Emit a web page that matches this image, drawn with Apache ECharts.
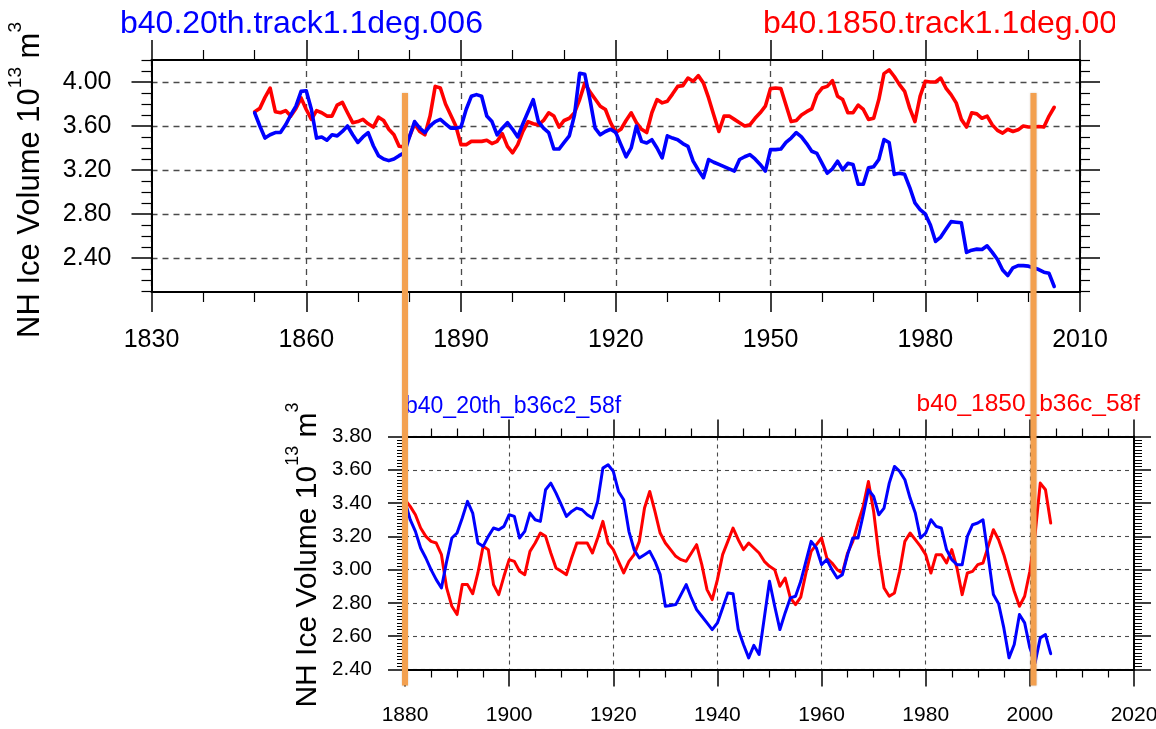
<!DOCTYPE html>
<html>
<head>
<meta charset="utf-8">
<script src="https://cdn.jsdelivr.net/npm/echarts@6/dist/echarts.min.js"></script>
<style>
  html, body { margin: 0; padding: 0; background: #ffffff; }
  #chart { width: 1156px; height: 729px; }
</style>
</head>
<body>
<div id="chart"></div>
<script>
// ---- NH ice volume (10^13 m^3), annual values ----
const topStartYear = 1850;      // b40 1-degree runs, 1850-2005
const bottomStartYear = 1880;   // b36 runs, 1880-2004

const track20thVolume = [
  3.72, 3.60, 3.49, 3.52, 3.54, 3.54, 3.61, 3.70, 3.78, 3.915,
  3.92, 3.75, 3.49, 3.50, 3.47, 3.52, 3.51, 3.55, 3.60, 3.52,
  3.45, 3.50, 3.54, 3.42, 3.33, 3.30, 3.285, 3.30, 3.33, 3.355,
  3.50, 3.64, 3.58, 3.54, 3.60, 3.64, 3.66, 3.62, 3.58, 3.58,
  3.59, 3.75, 3.87, 3.885, 3.87, 3.69, 3.64, 3.52, 3.58, 3.63,
  3.57, 3.50, 3.62, 3.73, 3.84, 3.64, 3.58, 3.54, 3.39, 3.39,
  3.45, 3.51, 3.70, 4.08, 4.07, 3.84, 3.58, 3.52, 3.55, 3.57,
  3.54, 3.43, 3.32, 3.40, 3.60, 3.46, 3.445, 3.475, 3.40, 3.31,
  3.51, 3.49, 3.475, 3.44, 3.415, 3.28, 3.20, 3.13, 3.295, 3.27,
  3.25, 3.23, 3.21, 3.19, 3.295, 3.32, 3.34, 3.30, 3.25, 3.19,
  3.385, 3.385, 3.39, 3.45, 3.49, 3.54, 3.50, 3.44, 3.37, 3.35,
  3.26, 3.17, 3.21, 3.28, 3.20, 3.26, 3.25, 3.07, 3.07, 3.22,
  3.23, 3.295, 3.476, 3.45, 3.16, 3.17, 3.16, 3.04, 2.90, 2.84,
  2.80, 2.70, 2.55, 2.59, 2.66, 2.73, 2.725, 2.72, 2.45, 2.47,
  2.48, 2.476, 2.51, 2.45, 2.385, 2.29, 2.24, 2.31, 2.33, 2.33,
  2.325, 2.31, 2.294, 2.27, 2.26, 2.14
];

const track1850Volume = [
  3.73, 3.76, 3.86, 3.945, 3.73, 3.72, 3.74, 3.69, 3.76, 3.855,
  3.75, 3.66, 3.74, 3.72, 3.69, 3.69, 3.79, 3.815, 3.72, 3.63,
  3.64, 3.66, 3.62, 3.59, 3.68, 3.65, 3.57, 3.52, 3.415, 3.41,
  3.50, 3.62, 3.55, 3.52, 3.69, 3.96, 3.945, 3.80, 3.70, 3.60,
  3.43, 3.43, 3.46, 3.46, 3.46, 3.47, 3.44, 3.46, 3.53, 3.415,
  3.355, 3.43, 3.55, 3.64, 3.62, 3.61, 3.65, 3.72, 3.69, 3.59,
  3.65, 3.67, 3.72, 3.84, 3.99, 3.91, 3.845, 3.78, 3.75, 3.63,
  3.54, 3.57, 3.65, 3.72, 3.63, 3.57, 3.54, 3.72, 3.84, 3.81,
  3.825, 3.89, 3.96, 3.967, 4.036, 4.006, 4.058, 3.99, 3.855, 3.70,
  3.55, 3.69, 3.69, 3.66, 3.63, 3.60, 3.61, 3.67, 3.72, 3.78,
  3.94, 3.945, 3.94, 3.79, 3.64, 3.65, 3.70, 3.73, 3.755, 3.885,
  3.945, 3.96, 4.012, 3.87, 3.84, 3.72, 3.72, 3.79, 3.75, 3.66,
  3.67, 3.84, 4.076, 4.11, 4.05, 3.976, 3.915, 3.76, 3.64, 3.87,
  4.006, 4.00, 4.00, 4.036, 3.945, 3.885, 3.81, 3.66, 3.59, 3.72,
  3.71, 3.67, 3.69, 3.61, 3.56, 3.535, 3.57, 3.55, 3.565, 3.60,
  3.59, 3.59, 3.595, 3.59, 3.69, 3.77
];

const b36c2Volume = [
  3.41, 3.30, 3.23, 3.13, 3.07, 3.00, 2.94, 2.89, 3.05, 3.19,
  3.22, 3.31, 3.41, 3.34, 3.16, 3.14, 3.20, 3.25, 3.24, 3.26,
  3.33, 3.32, 3.19, 3.23, 3.34, 3.30, 3.29, 3.48, 3.52, 3.46,
  3.39, 3.32, 3.35, 3.37, 3.36, 3.33, 3.31, 3.41, 3.61, 3.63,
  3.59, 3.47, 3.42, 3.23, 3.12, 3.07, 3.09, 3.11, 3.05, 2.97,
  2.78, 2.785, 2.79, 2.85, 2.91, 2.83, 2.76, 2.72, 2.68, 2.64,
  2.68, 2.77, 2.86, 2.855, 2.64, 2.55, 2.47, 2.545, 2.49, 2.71,
  2.93, 2.78, 2.64, 2.74, 2.83, 2.84, 2.93, 3.05, 3.17, 3.13,
  3.03, 3.06, 3.00, 2.95, 2.97, 3.09, 3.19, 3.19, 3.33, 3.48,
  3.44, 3.33, 3.37, 3.52, 3.62, 3.59, 3.54, 3.43, 3.34, 3.19,
  3.22, 3.30, 3.26, 3.25, 3.12, 3.06, 3.03, 3.03, 3.20, 3.27,
  3.28, 3.30, 3.08, 2.85, 2.795, 2.65, 2.47, 2.55, 2.73, 2.68,
  2.53, 2.44, 2.59, 2.61, 2.495
];

const b36cVolume = [
  3.42, 3.38, 3.33, 3.25, 3.20, 3.17, 3.16, 3.09, 2.89, 2.78,
  2.73, 2.91, 2.91, 2.855, 2.98, 3.14, 3.12, 2.91, 2.85, 2.96,
  3.06, 3.05, 2.99, 2.97, 3.11, 3.16, 3.22, 3.20, 3.10, 3.01,
  2.99, 2.97, 3.07, 3.16, 3.16, 3.16, 3.10, 3.19, 3.29, 3.16,
  3.12, 3.05, 2.98, 3.05, 3.09, 3.17, 3.37, 3.47, 3.35, 3.22,
  3.16, 3.12, 3.08, 3.06, 3.05, 3.10, 3.15, 3.03, 2.88, 2.82,
  2.94, 3.09, 3.17, 3.25, 3.18, 3.12, 3.16, 3.13, 3.10, 3.05,
  3.02, 3.00, 2.90, 2.95, 2.83, 2.79, 2.835, 2.98, 3.11, 3.15,
  3.19, 3.07, 3.04, 3.00, 2.98, 3.10, 3.17, 3.28, 3.38, 3.53,
  3.35, 3.09, 2.89, 2.84, 2.86, 2.99, 3.17, 3.22, 3.18, 3.14,
  3.09, 2.98, 3.09, 3.09, 3.04, 3.12, 3.01, 2.85, 2.98, 2.99,
  3.03, 3.04, 3.14, 3.24, 3.18, 3.09, 2.98, 2.87, 2.78, 2.84,
  2.99, 3.21, 3.52, 3.48, 3.28
];

// ---- tick values ----
const topYTicks = [2.4, 2.8, 3.2, 3.6, 4.0];
const topYMinorTicks = [2.1, 2.2, 2.3, 2.5, 2.6, 2.7, 2.9, 3.0, 3.1, 3.3, 3.4, 3.5, 3.7, 3.8, 3.9, 4.1, 4.2];

// ---- run names ----
const topTitles = ['b40.20th.track1.1deg.006', 'b40.1850.track1.1deg.006'];
const bottomTitles = ['b40_20th_b36c2_58f', 'b40_1850_b36c_58f'];
const yAxisTitle = '{a|NH Ice Volume 10}{s|13}{a| m}{s|3}';

// years marked by the vertical bars across both panels
const markerYears = [1880, 2000.7];

const FONT = '"Liberation Sans", Arial, Helvetica, sans-serif';
const BLUE = '#0000ff';
const RED = '#ff0000';
const ORANGE = '#f3a04f';

function toPairs(start, values) {
  return values.map((v, i) => [start + i, v]);
}

const chart = echarts.init(document.getElementById('chart'), null, { renderer: 'canvas' });

const frameLine = { show: true, onZero: false, lineStyle: { color: '#000', width: 2 } };
const yearLabel = v => String(v);

function xFrame(gridIndex, position, min, max, interval, minorSplit, major, minor, label) {
  return {
    type: 'value', gridIndex, position, min, max, interval,
    axisLine: frameLine,
    axisTick: { show: true, inside: false, length: major, lineStyle: { color: '#000', width: 1.5 } },
    minorTick: { show: true, splitNumber: minorSplit, length: minor, lineStyle: { color: '#000', width: 1.2 } },
    axisLabel: label ? label : { show: false },
    splitLine: { show: false },
    minorSplitLine: { show: false }
  };
}

const topGrid = { left: 151.5, top: 60, width: 928.5, height: 232 };
const bottomGrid = { left: 405, top: 436.5, width: 729, height: 233 };

const topDash = { show: true, lineStyle: { color: '#4a4a4a', width: 1.3, type: [6, 5] } };
const bottomDash = { show: true, lineStyle: { color: '#4a4a4a', width: 1.1, type: [4, 4] } };

const xAxes = [
  // top panel
  Object.assign(xFrame(0, 'bottom', 1830, 2010, 30, 3, 20, 10,
    { show: true, margin: 36, fontSize: 25, color: '#000', fontFamily: FONT, formatter: yearLabel }),
    { splitLine: topDash }),
  xFrame(0, 'top', 1830, 2010, 30, 3, 20, 10, null),
  // bottom panel
  Object.assign(xFrame(1, 'bottom', 1880, 2020, 20, 4, 17, 8,
    { show: true, margin: 35, fontSize: 21, color: '#000', fontFamily: FONT, formatter: yearLabel }),
    { splitLine: bottomDash }),
  xFrame(1, 'top', 1880, 2020, 20, 4, 17, 8, null)
];

const topYMin = 2.09, topYMax = 4.2;
function topY(position, showLabel, customTicks, len, split) {
  return {
    type: 'value', gridIndex: 0, position, min: topYMin, max: topYMax,
    axisLine: customTicks === topYTicks ? frameLine : { show: false },
    axisTick: { show: true, inside: false, length: len, customValues: customTicks,
                lineStyle: { color: '#000', width: customTicks === topYTicks ? 1.5 : 1.2 } },
    axisLabel: showLabel
      ? { show: true, customValues: topYTicks, margin: 40, fontSize: 25, color: '#000', fontFamily: FONT,
          formatter: v => v.toFixed(2) }
      : { show: false },
    splitLine: split ? topDash : { show: false }
  };
}

function bottomY(position, showLabel) {
  return {
    type: 'value', gridIndex: 1, position, min: 2.4, max: 3.8, interval: 0.2,
    axisLine: frameLine,
    axisTick: { show: true, inside: false, length: 17, lineStyle: { color: '#000', width: 1.5 } },
    minorTick: { show: true, splitNumber: 10, length: 8, lineStyle: { color: '#000', width: 1 } },
    axisLabel: showLabel
      ? { show: true, margin: 33, fontSize: 20.5, color: '#000', fontFamily: FONT, formatter: v => v.toFixed(2) }
      : { show: false },
    splitLine: showLabel ? bottomDash : { show: false },
    minorSplitLine: { show: false }
  };
}

const yAxes = [
  topY('left', true, topYTicks, 20, true),
  topY('right', false, topYTicks, 20, false),
  topY('left', false, topYMinorTicks, 10, false),
  topY('right', false, topYMinorTicks, 10, false),
  bottomY('left', true),
  bottomY('right', false)
];

function lineSeries(name, xi, yi, start, values, color, width) {
  return {
    name, type: 'line', xAxisIndex: xi, yAxisIndex: yi,
    data: toPairs(start, values),
    showSymbol: false, symbol: 'none', smooth: false, silent: true,
    lineStyle: { color, width, cap: 'round', join: 'round' },
    z: 3
  };
}

chart.setOption({
  animation: false,
  backgroundColor: '#ffffff',
  grid: [
    Object.assign({ containLabel: false, outerBoundsMode: 'none' }, topGrid),
    Object.assign({ containLabel: false, outerBoundsMode: 'none' }, bottomGrid)
  ],
  xAxis: xAxes,
  yAxis: yAxes,
  series: [
    lineSeries(topTitles[1], 0, 0, topStartYear, track1850Volume, RED, 3.6),
    lineSeries(topTitles[0], 0, 0, topStartYear, track20thVolume, BLUE, 3.6),
    lineSeries(bottomTitles[1], 2, 4, bottomStartYear, b36cVolume, RED, 3),
    lineSeries(bottomTitles[0], 2, 4, bottomStartYear, b36c2Volume, BLUE, 3)
  ]
});

// titles, axis names and the marker bars
function yTitle(id, x, y, size) {
  return {
    id, type: 'text', x, y, rotation: Math.PI / 2, z: 20,
    style: {
      text: yAxisTitle, align: 'center', verticalAlign: 'middle',
      rich: {
        a: { fontSize: size, fontFamily: FONT, fill: '#000', lineHeight: Math.round(size * 1.55) },
        s: { fontSize: Math.round(size * 0.6), fontFamily: FONT, fill: '#000', verticalAlign: 'top',
             lineHeight: Math.round(size * 0.6) }
      }
    }
  };
}

const barTop = chart.convertToPixel({ yAxisIndex: 0 }, 3.9);
const barBottom = chart.convertToPixel({ yAxisIndex: 4 }, 2.4) + 16;
const bars = markerYears.map((yr, i) => {
  const x = chart.convertToPixel({ xAxisIndex: 2 }, yr);
  return {
    id: 'bar' + i, type: 'line', z: 50,
    shape: { x1: x, y1: barTop, x2: x, y2: barBottom },
    style: { stroke: ORANGE, lineWidth: 6, shadowBlur: 2, shadowColor: 'rgba(120,80,40,0.35)' }
  };
});

chart.setOption({
  graphic: [
    { id: 't1', type: 'text', x: 120, y: 24, z: 20,
      style: { text: topTitles[0], fontSize: 32, fontFamily: FONT, fill: BLUE, align: 'left', verticalAlign: 'middle' } },
    { id: 't2', type: 'text', x: 763, y: 24, z: 20,
      style: { text: topTitles[1], fontSize: 32, fontFamily: FONT, fill: RED, align: 'left', verticalAlign: 'middle' } },
    // the page edge cuts the right-hand run name
    { id: 'edge', type: 'rect', z: 30, shape: { x: 1115, y: 0, width: 41, height: 50 },
      style: { fill: '#ffffff' } },
    { id: 'b1', type: 'text', x: 405, y: 407, z: 20,
      style: { text: bottomTitles[0], fontSize: 23, fontFamily: FONT, fill: BLUE, align: 'left', verticalAlign: 'middle' } },
    { id: 'b2', type: 'text', x: 1140, y: 404, z: 20,
      style: { text: bottomTitles[1], fontSize: 24.5, fontFamily: FONT, fill: RED, align: 'right', verticalAlign: 'middle' } },
    yTitle('yt1', 30, 180, 31),
    yTitle('yt2', 308, 555, 30)
  ].concat(bars)
});
</script>
</body>
</html>
